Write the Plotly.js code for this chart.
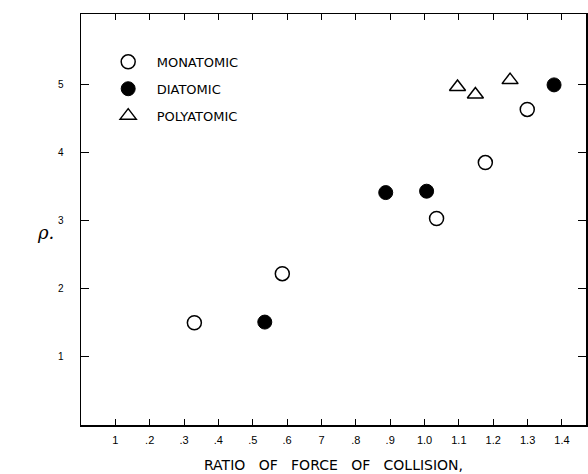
<!DOCTYPE html>
<html><head><meta charset="utf-8">
<script src="https://cdn.plot.ly/plotly-3.0.1.min.js"></script>
<style>body{margin:0;background:#fff}#c{width:588px;height:474px}</style>
</head><body><div id="c"></div>
<script>
const monoX = [0.330, 0.586, 1.035, 1.177, 1.299];
const monoY = [1.50, 2.22, 3.03, 3.85, 4.63];
const diX = [0.535, 0.887, 1.006, 1.377];
const diY = [1.51, 3.41, 3.43, 4.99];
const polyX = [1.096, 1.148, 1.249];
const polyY = [4.96, 4.85, 5.06];
const xTickVals = [0.1,0.2,0.3,0.4,0.5,0.6,0.7,0.8,0.9,1.0,1.1,1.2,1.3,1.4];
const xTickText = ['1','.2','.3','.4','.5','.6','7','.8','.9','1.0','1.1','1.2','1.3','1.4'];
const yTickVals = [1,2,3,4,5];
const yTickText = ['1','2','3','4','5'];
const names = ['MONATOMIC','DIATOMIC','POLYATOMIC'];

const font = 'Liberation Sans, Arial, sans-serif';
const wfont = 'DejaVu Sans, sans-serif';
const traces = [
  {x: monoX, y: monoY, name: names[0], legendgroup:'a', type:'scatter', mode:'markers',
   marker:{symbol:'circle-open', size:14, color:'#000', line:{width:1.5,color:'#000'}}},
  {x: diX, y: diY, name: names[1], legendgroup:'b', type:'scatter', mode:'markers',
   marker:{symbol:'circle', size:14, color:'#000', line:{width:1,color:'#000'}}},
  {x: polyX, y: polyY, name: names[2], legendgroup:'c', type:'scatter', mode:'markers',
   marker:{symbol:'triangle-up-open', size:14, color:'#000', line:{width:1.5,color:'#000'}}}
];
const layout = {
  width:588, height:474,
  margin:{l:81, r:2, t:14, b:49},
  paper_bgcolor:'#fff', plot_bgcolor:'#fff',
  font:{family:font, color:'#000', size:10},
  showlegend:true,
  legend:{x:0.037, y:0.92, xanchor:'left', yanchor:'top', bgcolor:'rgba(0,0,0,0)',
          font:{size:13, family:wfont, color:'#000'}, tracegroupgap:7, itemwidth:47},
  xaxis:{range:[0,1.47], tickvals:xTickVals, ticktext:xTickText, ticks:'inside', ticklen:6,
         tickwidth:1, tickcolor:'#000', showline:true, linecolor:'#000', linewidth:1.5,
         mirror:'allticks', showgrid:false, zeroline:false, ticklabelstandoff:4,
         tickfont:{size:11, family:font},
         title:{text:'RATIO\u00a0\u00a0\u00a0OF\u00a0\u00a0\u00a0FORCE\u00a0\u00a0\u00a0OF\u00a0\u00a0\u00a0COLLISION,', font:{size:14, family:wfont}, standoff:15}},
  yaxis:{range:[0,6.03], tickvals:yTickVals, ticktext:yTickText, ticks:'inside', ticklen:8,
         tickwidth:1.2, tickcolor:'#000', showline:true, linecolor:'#000', linewidth:1.5,
         mirror:'allticks', showgrid:false, zeroline:false, ticklabelstandoff:14,
         tickfont:{size:10, family:font}},
  annotations:[{text:'<i>ρ.</i>', xref:'paper', yref:'paper', x:-0.071, y:(425-232)/411, xanchor:'center', yanchor:'middle',
    showarrow:false, font:{size:18, family:'DejaVu Serif, serif', color:'#000'}}]
};
Plotly.newPlot('c', traces, layout, {staticPlot:true, displayModeBar:false});
</script></body></html>
